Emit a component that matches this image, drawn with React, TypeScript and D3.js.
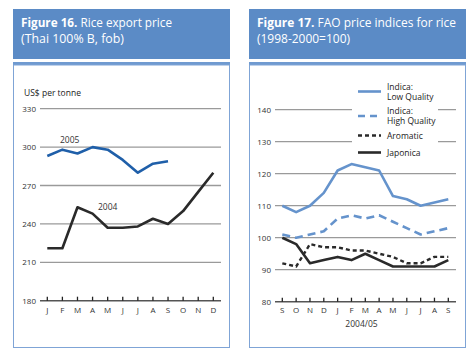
import * as d3 from 'd3';

const months16 = ['J', 'F', 'M', 'A', 'M', 'J', 'J', 'A', 'S', 'O', 'N', 'D'];
const price2005 = [293, 298, 295, 300, 298, 290, 280, 287, 289];
const price2004 = [221, 221, 253, 248, 237, 237, 238, 244, 240, 250, 265, 280];
const ticks16 = [180, 210, 240, 270, 300, 330];

const months17 = ['S', 'O', 'N', 'D', 'J', 'F', 'M', 'A', 'M', 'J', 'J', 'A', 'S'];
const lowQuality = [110, 108, 110, 114, 121, 123, 122, 121, 113, 112, 110, 111, 112];
const highQuality = [101, 100, 101, 102, 106, 107, 106, 107, 105, 103, 101, 102, 103];
const aromatic = [92, 91, 98, 97, 97, 96, 96, 95, 94, 92, 92, 94, 94];
const japonica = [100, 98, 92, 93, 94, 93, 95, 93, 91, 91, 91, 91, 93];
const ticks17 = [80, 90, 100, 110, 120, 130, 140];

const titleBlue = '#5b8bc6';
const font = 'Open Sans, DejaVu Sans, sans-serif';

type PanelProps = { x: number; w: number; title: string; sub: string; num: string; len1: number; len2: number };

function Panel({ x, w, title, sub, num, len1, len2 }: PanelProps) {
    return (
        <g>
            <rect x={x} y={9} width={w} height={50} fill={titleBlue} />
            <text x={x + 8} y={26.5} fill="#fff" fontSize={12} fontFamily={font} textLength={len1} lengthAdjust="spacingAndGlyphs">
                <tspan fontWeight="bold">{num}</tspan> {title}
            </text>
            <text x={x + 8} y={42.5} fill="#fff" fontSize={12} fontFamily={font} textLength={len2} lengthAdjust="spacingAndGlyphs">
                {sub}
            </text>
            <rect x={x} y={62} width={w} height={3} fill="#6f9ad0" />
            <rect x={x + 0.5} y={65} width={w - 1} height={282.5} fill="#fff" stroke="#7fa4d6" strokeWidth={1} />
        </g>
    );
}

export default function App() {
    // Figure 16 scales
    const x16 = d3.scaleLinear().domain([0, 11]).range([47.3, 213.3]);
    const y16 = d3.scaleLinear().domain([180, 330]).range([300.7, 108.7]);
    const line16 = d3
        .line<number>()
        .x((_, i) => x16(i))
        .y((d) => y16(d));

    // Figure 17 scales
    const x17 = d3.scaleLinear().domain([0, 12]).range([282.3, 448.3]);
    const y17 = d3.scaleLinear().domain([80, 140]).range([301.7, 109.7]);
    const line17 = d3
        .line<number>()
        .x((_, i) => x17(i))
        .y((d) => y17(d));

    const legend = [
        { label: ['Indica:', 'Low Quality'], color: '#6593cc', dash: undefined, ly: 91.5 },
        { label: ['Indica:', 'High Quality'], color: '#6593cc', dash: '7,5', ly: 116 },
        { label: ['Aromatic'], color: '#2a2a2a', dash: '4,3', ly: 135.5 },
        { label: ['Japonica'], color: '#2a2a2a', dash: undefined, ly: 152.5 }
    ];

    return (
        <svg width={470} height={352} style={{ position: 'absolute', left: 0, top: 0 }}>
            <rect width={470} height={352} fill="#fff" />
            <Panel x={13} w={217} num="Figure 16." title="Rice export price" sub="(Thai 100% B, fob)" len1={151} len2={103} />
            <Panel
                x={249}
                w={217}
                num="Figure 17."
                title="FAO price indices for rice"
                sub="(1998-2000=100)"
                len1={199}
                len2={93}
            />

            {/* Figure 16 */}
            <text x={24} y={96} fontSize={8.5} fontFamily={font} fill="#222">
                US$ per tonne
            </text>
            {ticks16.map((t) => (
                <g key={t}>
                    {t !== 180 && (
                        <line x1={40} x2={221} y1={y16(t)} y2={y16(t)} stroke="#9a9a9a" strokeWidth={1.3} />
                    )}
                    <text x={36} y={y16(t) + 3} textAnchor="end" fontSize={8} fontFamily={font} fill="#333">
                        {t}
                    </text>
                </g>
            ))}
            <line x1={40} x2={221} y1={y16(180)} y2={y16(180)} stroke="#555" strokeWidth={1.5} />
            {months16.map((m, i) => (
                <g key={i}>
                    <line x1={x16(i)} x2={x16(i)} y1={y16(180) - 4} y2={y16(180)} stroke="#222" strokeWidth={1.3} />
                    <text x={x16(i)} y={313} textAnchor="middle" fontSize={8} fontFamily={font} fill="#333">
                        {m}
                    </text>
                </g>
            ))}
            <path d={line16(price2005) ?? ''} fill="none" stroke="#1f5fa9" strokeWidth={2.6} strokeLinejoin="round" />
            <path d={line16(price2004) ?? ''} fill="none" stroke="#2a2a2a" strokeWidth={2.6} strokeLinejoin="round" />
            <text x={60} y={143} fontSize={8.5} fontFamily={font} fill="#333">
                2005
            </text>
            <text x={98} y={210} fontSize={8.5} fontFamily={font} fill="#333">
                2004
            </text>

            {/* Figure 17 */}
            {ticks17.map((t) => (
                <g key={t}>
                    {t !== 80 && (
                        <line x1={275} x2={456} y1={y17(t)} y2={y17(t)} stroke="#9a9a9a" strokeWidth={1.3} />
                    )}
                    <text x={271} y={y17(t) + 3} textAnchor="end" fontSize={8} fontFamily={font} fill="#333">
                        {t}
                    </text>
                </g>
            ))}
            <line x1={275} x2={456} y1={y17(80)} y2={y17(80)} stroke="#555" strokeWidth={1.5} />
            {months17.map((m, i) => (
                <g key={i}>
                    <line x1={x17(i)} x2={x17(i)} y1={y17(80) - 4} y2={y17(80)} stroke="#222" strokeWidth={1.3} />
                    <text x={x17(i)} y={313} textAnchor="middle" fontSize={8} fontFamily={font} fill="#333">
                        {m}
                    </text>
                </g>
            ))}
            <text x={361.5} y={327} textAnchor="middle" fontSize={8.5} fontFamily={font} fill="#333">
                2004/05
            </text>

            <rect x={352} y={80} width={86} height={82} fill="#fff" />
            {legend.map((l, i) => (
                <g key={i}>
                    <line x1={358} x2={381} y1={l.ly} y2={l.ly} stroke={l.color} strokeWidth={2.6} strokeDasharray={l.dash} />
                    {l.label.map((s, j) => (
                        <text
                            key={j}
                            x={387}
                            y={l.label.length === 2 ? l.ly - 2 + j * 10 : l.ly + 3}
                            fontSize={8.5}
                            fontFamily={font}
                            fill="#222"
                        >
                            {s}
                        </text>
                    ))}
                </g>
            ))}

            <path d={line17(lowQuality) ?? ''} fill="none" stroke="#6593cc" strokeWidth={2.6} strokeLinejoin="round" />
            <path
                d={line17(highQuality) ?? ''}
                fill="none"
                stroke="#6593cc"
                strokeWidth={2.6}
                strokeDasharray="8,5"
                strokeLinejoin="round"
            />
            <path
                d={line17(aromatic) ?? ''}
                fill="none"
                stroke="#2a2a2a"
                strokeWidth={2.4}
                strokeDasharray="4,3"
                strokeLinejoin="round"
            />
            <path d={line17(japonica) ?? ''} fill="none" stroke="#2a2a2a" strokeWidth={2.6} strokeLinejoin="round" />
        </svg>
    );
}
